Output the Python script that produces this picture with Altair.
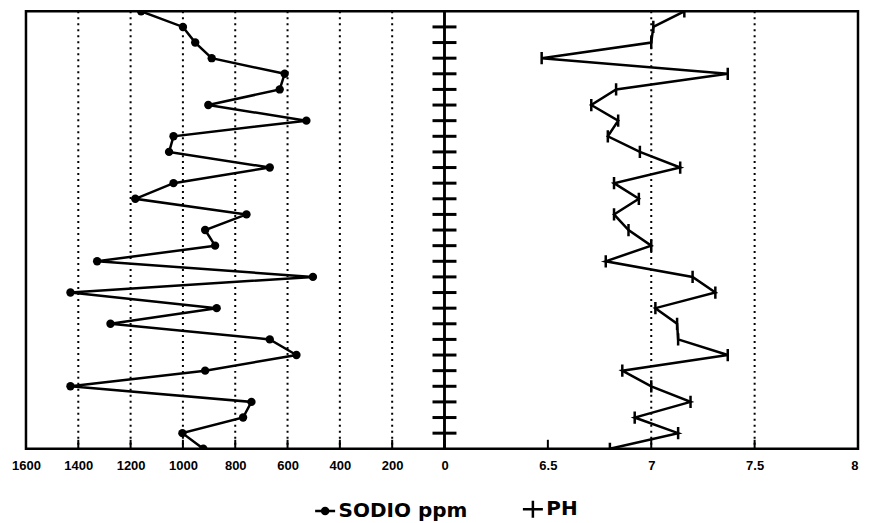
import altair as alt
import pandas as pd

# sample index, top (0) to bottom (28)
depth = list(range(29))
sodio = [1160, 1000, 953, 890, 611, 630, 903, 528, 1036, 1053, 668, 1036, 1182, 757,
         915, 877, 1328, 503, 1430, 871, 1277, 668, 566, 915, 1430, 738, 770, 1002, 922]
ph = [7.16, 7.01, 7.0, 6.47, 7.37, 6.83, 6.71, 6.84, 6.79, 6.945, 7.14, 6.82, 6.94, 6.82,
      6.89, 7.0, 6.78, 7.20, 7.31, 7.02, 7.125, 7.13, 7.37, 6.86, 7.0, 7.19, 6.92, 7.13, 6.80]
sodio_ticks = [1600, 1400, 1200, 1000, 800, 600, 400, 200, 0]
ph_ticks = [6, 6.5, 7, 7.5, 8]
sodio_grid = [1400, 1200, 1000, 800, 600, 400, 200]
ph_grid = [7, 7.5]
center_ticks = list(range(1, 28))
series = ["SODIO ppm", "PH"]

W1, W2, H = 419, 414, 438
BLACK = "black"

df_na = pd.DataFrame({"depth": depth, "sodio": sodio})
df_ph = pd.DataFrame({"depth": depth, "ph": ph})
df_ct = pd.DataFrame({"depth": center_ticks})
df_leg = pd.DataFrame({"serie": series})

yscale = alt.Scale(domain=[0, 28], reverse=True, nice=False, zero=False)
xs_na = alt.Scale(domain=[0, 1600], reverse=True, nice=False, zero=False)
xs_ph = alt.Scale(domain=[6, 8], nice=False, zero=False)

ax_common = dict(title=None, ticks=False, domain=False, grid=False,
                 labelFont="Liberation Sans", labelFontWeight="bold",
                 labelFontSize=13, labelColor=BLACK, labelPadding=11)
ax_na = alt.Axis(values=sodio_ticks, format="d", labelFlush=False, **ax_common)
ax_ph = alt.Axis(values=ph_ticks, format="~g", labelFlush=True,
                 labelExpr="datum.value == 6 ? '' : datum.label", **ax_common)

# legend symbols: line with a solid dot / plus sign (stroked paths)
SODIO_PATH = ("M-1,0L1,0"
              "M-0.3,0A0.3,0.3,0,1,1,0.3,0A0.3,0.3,0,1,1,-0.3,0Z"
              "M-0.15,0A0.15,0.15,0,1,1,0.15,0A0.15,0.15,0,1,1,-0.15,0Z")
PH_PATH = "M-1,0L1,0M0,-0.85L0,0.85"

# ---------- left panel: SODIO ----------
grid_na = alt.Chart(pd.DataFrame({"v": sodio_grid})).mark_rule(
    color=BLACK, strokeWidth=2, strokeDash=[2, 4]).encode(
    x=alt.X("v:Q", scale=xs_na, axis=ax_na))
tick_na = alt.Chart(pd.DataFrame({"v": sodio_ticks})).mark_rule(
    color=BLACK, strokeWidth=2).encode(
    x=alt.X("v:Q", scale=xs_na), y=alt.value(H), y2=alt.value(H - 9))
ct_na = alt.Chart(df_ct).mark_rule(color=BLACK, strokeWidth=3).encode(
    y=alt.Y("depth:Q", scale=yscale, axis=None),
    x=alt.value(W1 - 12), x2=alt.value(W1))
line_na = alt.Chart(df_na).mark_line(color=BLACK, strokeWidth=2.5, clip=True).encode(
    x=alt.X("sodio:Q", scale=xs_na),
    y=alt.Y("depth:Q", scale=yscale, axis=None),
    order="depth:Q")
pts_na = alt.Chart(df_na).mark_circle(color=BLACK, size=70, opacity=1, clip=True).encode(
    x=alt.X("sodio:Q", scale=xs_na),
    y=alt.Y("depth:Q", scale=yscale, axis=None))
leg = alt.Chart(df_leg).mark_point(
    filled=False, color=BLACK, strokeWidth=2.5, opacity=1, clip=True).encode(
    x=alt.value(-60), y=alt.value(-60),
    shape=alt.Shape("serie:N",
                    scale=alt.Scale(domain=series, range=[SODIO_PATH, PH_PATH]),
                    legend=alt.Legend(title=None, orient="none", direction="horizontal",
                                      legendX=288, legendY=487,
                                      labelFont="DejaVu Sans", labelFontWeight="bold",
                                      labelFontSize=20, labelColor=BLACK,
                                      symbolSize=400, symbolStrokeWidth=2.5,
                                      symbolStrokeColor=BLACK,
                                      symbolOpacity=1, labelOffset=2,
                                      columnPadding=50, padding=0)))

left = alt.layer(grid_na, tick_na, ct_na, line_na, pts_na, leg).properties(
    width=W1, height=H)

# ---------- right panel: PH ----------
grid_ph = alt.Chart(pd.DataFrame({"v": ph_grid})).mark_rule(
    color=BLACK, strokeWidth=2, strokeDash=[2, 4]).encode(
    x=alt.X("v:Q", scale=xs_ph, axis=ax_ph))
tick_ph = alt.Chart(pd.DataFrame({"v": ph_ticks})).mark_rule(
    color=BLACK, strokeWidth=2).encode(
    x=alt.X("v:Q", scale=xs_ph), y=alt.value(H), y2=alt.value(H - 9))
ct_ph = alt.Chart(df_ct).mark_rule(color=BLACK, strokeWidth=3).encode(
    y=alt.Y("depth:Q", scale=yscale, axis=None),
    x=alt.value(0), x2=alt.value(12))
line_ph = alt.Chart(df_ph).mark_line(color=BLACK, strokeWidth=2.5, clip=True).encode(
    x=alt.X("ph:Q", scale=xs_ph),
    y=alt.Y("depth:Q", scale=yscale, axis=None),
    order="depth:Q")
pts_ph = alt.Chart(df_ph).mark_point(shape="M0,-1L0,1", size=150, strokeWidth=2.5,
                                     color=BLACK, opacity=1, clip=True).encode(
    x=alt.X("ph:Q", scale=xs_ph),
    y=alt.Y("depth:Q", scale=yscale, axis=None))

right = alt.layer(grid_ph, tick_ph, ct_ph, line_ph, pts_ph).properties(
    width=W2, height=H)

chart = alt.hconcat(left, right, spacing=0, bounds="flush").resolve_scale(
    x="independent", y="shared").properties(
    padding={"left": 2, "top": 0, "right": 0, "bottom": 0},
    background="white").configure_view(stroke=BLACK, strokeWidth=2.5)

chart.save("out.html", embed_options={"renderer": "svg", "actions": False})
